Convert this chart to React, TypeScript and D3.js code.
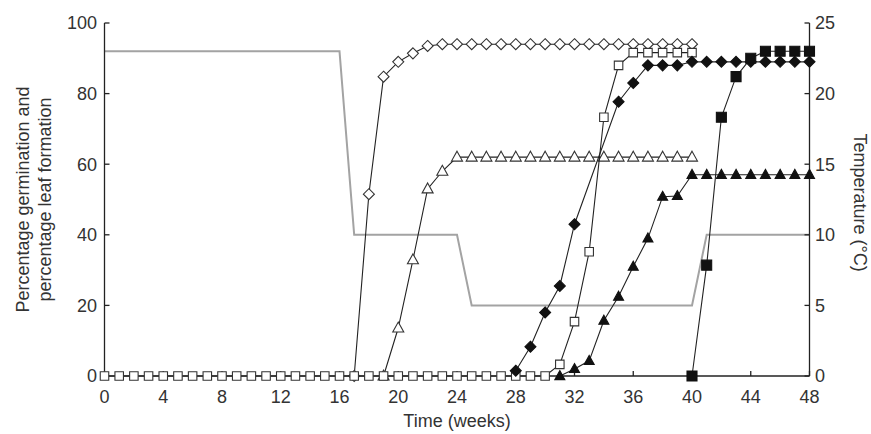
import React from "react";
import * as d3 from "d3";

const W = 871;
const H = 434;

const xTicks = [0, 4, 8, 12, 16, 20, 24, 28, 32, 36, 40, 44, 48];
const yLeftTicks = [0, 20, 40, 60, 80, 100];
const yRightTicks = [0, 5, 10, 15, 20, 25];

const range = (a: number, b: number) => d3.range(a, b + 1);

// Open squares
const openSqWeeks = range(0, 40);
const openSqVals = [
  0, 0, 0, 0, 0, 0, 0, 0, 0, 0, 0, 0, 0, 0, 0, 0, 0, 0, 0, 0, 0, 0, 0, 0, 0, 0, 0, 0, 0, 0, 0,
  3.3, 15.4, 35.2, 73.3, 88, 91.6, 91.6, 91.6, 91.6, 91.6,
];

// Open diamonds
const openDiaWeeks = range(17, 40);
const openDiaVals = [0, 51.5, 84.8, 89, 91.4, 93.5, 94, 94, 94, 94, 94, 94, 94, 94, 94, 94, 94, 94, 94, 94, 94, 94, 94, 94];

// Open triangles
const openTriWeeks = range(19, 40);
const openTriVals = [0, 13.6, 32.9, 53, 58, 62, 62, 62, 62, 62, 62, 62, 62, 62, 62, 62, 62, 62, 62, 62, 62, 62];

// Filled diamonds
const fillDiaWeeks = [28, 29, 30, 31, 32, 35, 36, 37, 38, 39, 40, 41, 42, 43, 44, 45, 46, 47, 48];
const fillDiaVals = [1.5, 8.3, 18, 25.5, 43, 77.7, 83, 88, 88, 88, 89, 89, 89, 89, 89, 89, 89, 89, 89];

// Filled triangles
const fillTriWeeks = range(31, 48);
const fillTriVals = [0, 2, 4.3, 15.7, 22.5, 31, 39, 50.8, 51, 57, 57, 57, 57, 57, 57, 57, 57, 57];

// Filled squares
const fillSqWeeks = range(40, 48);
const fillSqVals = [0, 31.4, 73.3, 84.8, 90, 92, 92, 92, 92];

// Temperature (°C)
const tempWeeks = [0, 16, 17, 24, 25, 40, 41, 48];
const tempVals = [23, 23, 10, 10, 5, 5, 10, 10];

const x = d3.scaleLinear().domain([0, 48]).range([104.5, 809.5]);
const yL = d3.scaleLinear().domain([0, 100]).range([376, 23]);
const yR = d3.scaleLinear().domain([0, 25]).range([376, 23]);

type Shape = "square" | "diamond" | "triangle";

function markerPath(shape: Shape, s: number): string {
  const p = d3.path();
  if (shape === "square") {
    p.rect(-s / 2, -s / 2, s, s);
  } else if (shape === "diamond") {
    const h = s / 2;
    p.moveTo(0, -h);
    p.lineTo(h, 0);
    p.lineTo(0, h);
    p.lineTo(-h, 0);
    p.closePath();
  } else {
    const h = s * 0.9;
    p.moveTo(0, -h * 0.6);
    p.lineTo(s / 2, h * 0.4);
    p.lineTo(-s / 2, h * 0.4);
    p.closePath();
  }
  return p.toString();
}

function Series({
  weeks,
  vals,
  shape,
  filled,
  size,
}: {
  weeks: number[];
  vals: number[];
  shape: Shape;
  filled: boolean;
  size: number;
}) {
  const pts: [number, number][] = weeks.map((w, i) => [w, vals[i]]);
  const line = d3
    .line<[number, number]>()
    .x((d) => x(d[0]))
    .y((d) => yL(d[1]));
  const mp = markerPath(shape, size);
  return (
    <g>
      <path d={line(pts) || ""} fill="none" stroke="#222" strokeWidth={1.1} />
      {pts.map((d, i) => (
        <path
          key={i}
          d={mp}
          transform={`translate(${x(d[0])},${yL(d[1])})`}
          fill={filled ? "#111" : "#fff"}
          stroke={filled ? "#111" : "#333"}
          strokeWidth={1.1}
        />
      ))}
    </g>
  );
}

export default function App() {
  const tempPts: [number, number][] = tempWeeks.map((w, i) => [w, tempVals[i]]);
  const tempLine = d3
    .line<[number, number]>()
    .x((d) => x(d[0]))
    .y((d) => yR(d[1]));
  const font = "'Liberation Sans', Arial, Helvetica, sans-serif";
  const txt = "#333";
  const fs = 18;
  const x0 = x(0);
  const x1 = x(48);
  const yb = yL(0);
  const yt = yL(100);
  return (
    <svg
      width={W}
      height={H}
      style={{ position: "absolute", left: 0, top: 0, background: "#fff" }}
      fontFamily={font}
    >
      <rect width={W} height={H} fill="#fff" />
      {/* temperature line */}
      <path d={tempLine(tempPts) || ""} fill="none" stroke="#a3a3a3" strokeWidth={2} />

      {/* axes */}
      <g stroke="#222" strokeWidth={1.3} fill="none">
        <line x1={x0} y1={yt} x2={x0} y2={yb} />
        <line x1={x1} y1={yt} x2={x1} y2={yb} />
        <line x1={x0} y1={yb} x2={x1} y2={yb} />
        {yLeftTicks.map((t) => (
          <line key={"l" + t} x1={x0} x2={x0 + 5} y1={yL(t)} y2={yL(t)} />
        ))}
        {yRightTicks.map((t) => (
          <line key={"r" + t} x1={x1} x2={x1 - 5} y1={yR(t)} y2={yR(t)} />
        ))}
        {xTicks.map((t) => (
          <line key={"b" + t} x1={x(t)} x2={x(t)} y1={yb} y2={yb - 5} />
        ))}
      </g>

      <Series weeks={openDiaWeeks} vals={openDiaVals} shape="diamond" filled={false} size={11} />
      <Series weeks={openTriWeeks} vals={openTriVals} shape="triangle" filled={false} size={11} />
      <Series weeks={openSqWeeks} vals={openSqVals} shape="square" filled={false} size={8.5} />
      <Series weeks={fillDiaWeeks} vals={fillDiaVals} shape="diamond" filled={true} size={11} />
      <Series weeks={fillTriWeeks} vals={fillTriVals} shape="triangle" filled={true} size={10} />
      <Series weeks={fillSqWeeks} vals={fillSqVals} shape="square" filled={true} size={10} />

      {/* tick labels */}
      <g fill={txt} fontSize={fs}>
        {yLeftTicks.map((t) => (
          <text key={"lt" + t} x={97} y={yL(t)} dy="0.35em" textAnchor="end">
            {t}
          </text>
        ))}
        {yRightTicks.map((t) => (
          <text key={"rt" + t} x={815} y={yR(t)} dy="0.35em" textAnchor="start">
            {t}
          </text>
        ))}
        {xTicks.map((t) => (
          <text key={"bt" + t} x={x(t)} y={403} textAnchor="middle">
            {t}
          </text>
        ))}
        <text x={(x0 + x1) / 2} y={427} textAnchor="middle">
          Time (weeks)
        </text>
        <text transform={`translate(29,${(yt + yb) / 2}) rotate(-90)`} textAnchor="middle">
          Percentage germination and
        </text>
        <text transform={`translate(51,${(yt + yb) / 2}) rotate(-90)`} textAnchor="middle">
          percentage leaf formation
        </text>
        <text transform={`translate(854,${(yt + yb) / 2 + 3}) rotate(90)`} textAnchor="middle">
          Temperature (°C)
        </text>
      </g>
    </svg>
  );
}
